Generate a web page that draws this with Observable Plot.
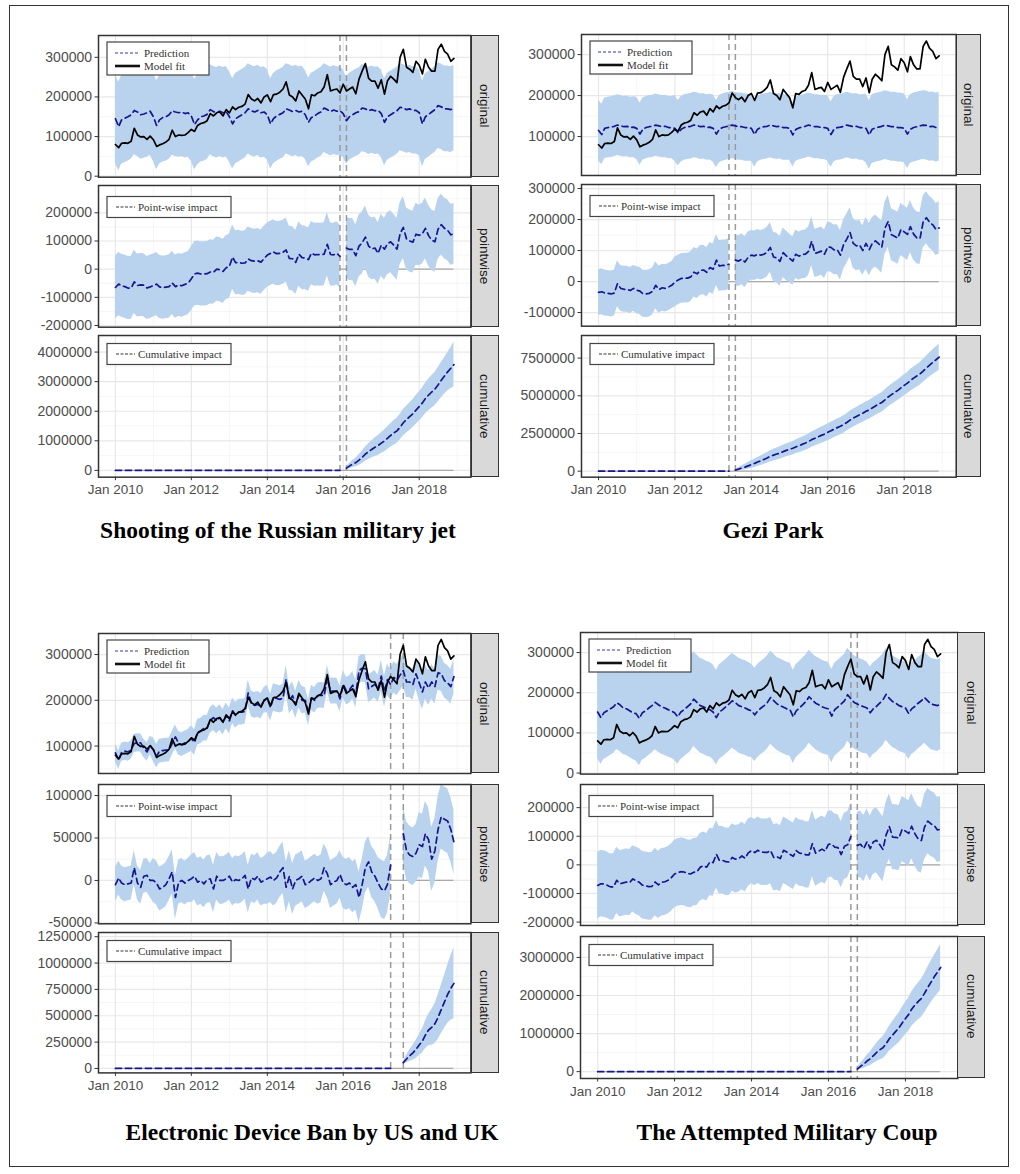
<!DOCTYPE html>
<html>
<head>
<meta charset="utf-8">
<script src="https://cdn.jsdelivr.net/npm/d3@7"></script>
<script src="https://cdn.jsdelivr.net/npm/@observablehq/plot@0.6"></script>
<style>
  body { margin: 0; background: #fff; }
  #page { position: relative; width: 1020px; height: 1174px; overflow: hidden; background: #fff; }
  #border { position: absolute; left: 9px; top: 5px; width: 1000px; height: 1162px; border: 1px solid #333; box-sizing: border-box; }
  .box { position: absolute; }
  .strip { position: absolute; background: #d9d9d9; border: 1.5px solid #333; box-sizing: border-box;
           display: flex; align-items: center; justify-content: center; }
  .strip span { writing-mode: vertical-rl; font: 13.5px "Liberation Sans", Arial, sans-serif; color: #1a1a1a; }
  .title { position: absolute; transform: translateX(-50%); white-space: nowrap; line-height: 28px;
           font: bold 23.5px "Liberation Serif", "Times New Roman", serif; color: #000; }
</style>
</head>
<body>
<div id="page"><div id="border"></div></div>
<script>
// monthly series, Jan 2010 - Dec 2018, in thousands
const actual = [
  80, 72, 83, 84, 83, 88, 121, 104, 99, 100, 93, 101,
  92, 75, 79, 82, 86, 93, 116, 100, 104, 103, 104, 110,
  118, 113, 128, 133, 135, 140, 158, 152, 160, 162, 152, 168,
  160, 175, 168, 174, 176, 182, 206, 195, 190, 196, 185, 200,
  205, 188, 206, 207, 212, 220, 238, 205, 200, 190, 215, 205,
  195, 170, 205, 203, 210, 213, 225, 256, 215, 218, 220, 210,
  232, 215, 220, 225, 208, 245, 265, 284, 247, 240, 240, 222,
  243, 207, 240, 252, 245, 236, 300, 320, 275, 270, 262, 290,
  280, 258, 295, 275, 265, 265, 320, 333, 315, 308, 290, 297
];

const predJet = [
  145, 125, 142, 146, 150, 155, 166, 162, 155, 157, 160, 164,
  150, 128, 142, 148, 150, 155, 165, 162, 160, 162, 158, 160,
  152, 130, 142, 150, 152, 156, 168, 163, 160, 164, 160, 163,
  150, 132, 145, 150, 155, 160, 170, 165, 162, 166, 160, 162,
  155, 132, 145, 152, 156, 160, 170, 167, 163, 166, 162, 164,
  155, 136, 148, 152, 158, 162, 172, 168, 163, 167, 164, 165,
  158, 140, 150, 155, 160, 163, 172, 170, 165, 168, 165, 166,
  158, 136, 150, 155, 160, 165, 174, 172, 168, 170, 166, 166,
  160, 132, 150, 156, 162, 168, 178, 175, 170, 170, 168, 172
];

const predGezi = [
  115, 105, 120, 122, 123, 125, 128, 126, 124, 125, 122, 123,
  120, 106, 118, 122, 124, 125, 128, 126, 124, 125, 122, 122,
  120, 108, 118, 122, 124, 125, 128, 127, 124, 125, 122, 123,
  120, 106, 118, 122, 124, 126, 128, 126, 124, 124, 122, 122,
  120, 105, 118, 122, 124, 125, 128, 126, 124, 125, 122, 122,
  120, 104, 117, 121, 123, 125, 128, 126, 124, 124, 122, 122,
  120, 105, 118, 122, 123, 125, 128, 126, 124, 125, 122, 122,
  120, 104, 118, 121, 123, 125, 128, 126, 124, 124, 122, 122,
  120, 106, 118, 122, 124, 126, 128, 127, 124, 125, 122, 124
];

// point-wise impact read directly for the device ban (prediction tracks the data)
const effectBan = [
  -5, 3, -3, -5, -4, -3, 15, -3, -8, 5, 6, 0,
  0, -3, -10, -8, -5, 2, 10, -20, -2, 0, -3, 0,
  2, 5, -2, 0, -4, 1, 2, -10, 5, 0, 0, 2,
  5, -2, 1, 0, 2, 6, -10, 3, 1, 5, -2, 0,
  2, 4, 0, 3, 10, 15, -8, 5, -10, 0, 2, 5,
  -5, -3, 0, 3, 0, 2, 15, 8, -5, -2, 0, 7,
  -3, -5, -3, -8, -5, -20, -5, 15, 22, 10, 5, -3,
  -10, -12, -5, 18, -5, -8, 45, 55, 35, 30, 28, 32,
  42, 40, 55, 48, 25, 35, 60, 75, 72, 70, 60, 45
];

const predCoup = [
  152, 138, 150, 155, 160, 165, 175, 170, 162, 160, 155, 150,
  148, 136, 150, 155, 162, 168, 176, 170, 165, 162, 158, 155,
  150, 140, 152, 158, 165, 172, 184, 176, 168, 165, 160, 158,
  152, 138, 152, 158, 165, 172, 180, 175, 168, 165, 162, 158,
  155, 145, 155, 162, 168, 176, 188, 180, 172, 168, 164, 160,
  158, 140, 155, 162, 170, 178, 190, 182, 174, 170, 165, 162,
  160, 142, 158, 165, 172, 180, 195, 185, 176, 172, 168, 165,
  162, 150, 160, 166, 174, 182, 196, 186, 178, 174, 168, 165,
  162, 148, 160, 166, 174, 180, 188, 180, 172, 170, 168, 172
];

// half width of the prediction interval, by year 2010..2018 (thousands)
const bandJet = [112, 112, 114, 114, 114, 112, 110, 110, 108];
const bandGezi = [74, 76, 80, 82, 80, 78, 80, 84, 84];
const bandBan = [20, 26, 28, 28, 30, 28, 30, 34, 38];
const bandCoup = [116, 118, 118, 118, 116, 116, 116, 114, 114];

// half width of the cumulative interval, per post-period month (thousands)
const cumBandJet = [50, 90, 120, 150, 180, 210, 240, 265, 290, 310, 330, 350, 370, 385, 400, 415, 425, 435,
  445, 455, 465, 475, 485, 495, 505, 520, 535, 550, 565, 580, 600, 620, 650, 690, 760];
const cumBandGezi = [60, 110, 150, 190, 220, 250, 275, 300, 320, 340, 355, 370, 385, 400, 410, 420, 430, 440,
  450, 460, 470, 480, 490, 500, 510, 520, 530, 540, 550, 555, 560, 565, 570, 575, 580, 585, 590, 595, 600,
  605, 610, 615, 620, 625, 630, 640, 650, 660, 665, 670, 675, 680, 690, 700, 710, 720, 730, 740, 750, 765,
  780, 800, 820, 850, 880];
const cumBandBan = [15, 35, 55, 70, 85, 100, 115, 130, 150, 170, 190, 210, 230, 250, 275, 305, 335];
const cumBandCoup = [40, 80, 115, 150, 180, 210, 240, 265, 290, 310, 330, 350, 370, 390, 410, 425, 440, 455,
  470, 485, 500, 515, 530, 545, 560, 580, 600];

const dates = d3.utcMonths(new Date(Date.UTC(2010, 0, 1)), new Date(Date.UTC(2019, 0, 1)));
const majorYears = [2010, 2012, 2014, 2016, 2018].map(y => new Date(Date.UTC(y, 0, 1)));
const minorYears = [2011, 2013, 2015, 2017, 2019].map(y => new Date(Date.UTC(y, 0, 1)));
const facetNames = ["original", "pointwise", "cumulative"];

const panels = [
  {
    title: "Shooting of the Russian military jet", tx: 278, ty: 531,
    pred: predJet, band: bandJet, cumBand: cumBandJet, preEnd: 71, postStart: 73,
    x0: 98.3, x1: 470.7, strip: 28.3,
    rows: [[35, 176.7], [185, 326.7], [335, 476.7]],
    domains: [[-2500, 355000], [-206000, 297000], [-230000, 4560000]],
    ticks: [[0, 1e5, 2e5, 3e5], [-2e5, -1e5, 0, 1e5, 2e5], [0, 1e6, 2e6, 3e6, 4e6]]
  },
  {
    title: "Gezi Park", tx: 773, ty: 531,
    pred: predGezi, band: bandGezi, cumBand: cumBandGezi, preEnd: 41, postStart: 43,
    x0: 581, x1: 955.7, strip: 25.5,
    rows: [[34, 175], [184, 325.7], [335, 476.7]],
    domains: [[5000, 349000], [-144000, 313000], [-400000, 9000000]],
    ticks: [[1e5, 2e5, 3e5], [-1e5, 0, 1e5, 2e5, 3e5], [0, 2.5e6, 5e6, 7.5e6]]
  },
  {
    title: "Electronic Device Ban by US and UK", tx: 312, ty: 1133,
    effect: effectBan, band: bandBan, cumBand: cumBandBan, preEnd: 87, postStart: 91,
    x0: 98.3, x1: 470.7, strip: 28.3,
    rows: [[633.3, 773.3], [784, 923.3], [932.3, 1072.7]],
    domains: [[40000, 346000], [-51000, 113000], [-42000, 1290000]],
    ticks: [[1e5, 2e5, 3e5], [-5e4, 0, 5e4, 1e5], [0, 2.5e5, 5e5, 7.5e5, 1e6, 1.25e6]]
  },
  {
    title: "The Attempted Military Coup", tx: 787, ty: 1133,
    pred: predCoup, band: bandCoup, cumBand: cumBandCoup, preEnd: 79, postStart: 81,
    x0: 580, x1: 957.3, strip: 27.7,
    rows: [[631.7, 773.3], [784, 925], [935.7, 1077.7]],
    domains: [[-2500, 350000], [-212000, 281000], [-180000, 3550000]],
    ticks: [[0, 1e5, 2e5, 3e5], [-2e5, -1e5, 0, 1e5, 2e5], [0, 1e6, 2e6, 3e6]]
  }
];

const d0 = dates[0], d1 = dates[dates.length - 1];
const pad = (d1 - d0) * 0.05;
const xDomain = [new Date(+d0 - pad), new Date(+d1 + pad)];

const BAND = "#b9d3ee", BLUE = "#16168f", VGREY = "#9a9a9a", ZERO = "#a9a9a9";

function buildRows(p) {
  let run = 0;
  return dates.map((date, i) => {
    const yr = Math.floor(i / 12);
    const y = actual[i] * 1e3;
    const pred = (p.pred ? p.pred[i] : actual[i] - p.effect[i]) * 1e3;
    const hw = p.band[yr] * 1e3;
    const r = {date, y, pred, lo: pred - hw, hi: pred + hw};
    const gap = i > p.preEnd && i < p.postStart;
    const pw = gap ? NaN : y - pred;
    r.pw = pw; r.pwLo = pw - hw; r.pwHi = pw + hw;
    if (i <= p.preEnd) { r.cum = 0; r.cumLo = 0; r.cumHi = 0; }
    else if (gap) { r.cum = NaN; r.cumLo = NaN; r.cumHi = NaN; }
    else {
      run += pw;
      const c = p.cumBand[i - p.postStart] * 1e3;
      r.cum = run; r.cumLo = run - c; r.cumHi = run + c;
    }
    return r;
  });
}

function addLegend(svg, x, y, k) {
  const g = d3.select(svg).append("g").attr("transform", `translate(${x},${y})`)
    .attr("text-anchor", "start")
    .style("font-family", '"Liberation Serif", "Times New Roman", serif').style("font-size", "11px");
  if (k === 0) {
    g.append("rect").attr("width", 102).attr("height", 33).attr("fill", "#fff").attr("stroke", "#444").attr("stroke-width", 1.2);
    g.append("line").attr("x1", 8).attr("x2", 33).attr("y1", 11).attr("y2", 11)
      .attr("stroke", "#3636b0").attr("stroke-width", 1.2).attr("stroke-dasharray", "3,2");
    g.append("text").attr("x", 37).attr("y", 11).attr("dy", "0.35em").attr("fill", "#333").text("Prediction");
    g.append("line").attr("x1", 8).attr("x2", 33).attr("y1", 24).attr("y2", 24)
      .attr("stroke", "#111").attr("stroke-width", 2.6);
    g.append("text").attr("x", 37).attr("y", 24).attr("dy", "0.35em").attr("fill", "#333").text("Model fit");
  } else {
    g.append("rect").attr("width", 124).attr("height", 21).attr("fill", "#fff").attr("stroke", "#444").attr("stroke-width", 1.2);
    g.append("line").attr("x1", 9).attr("x2", 28).attr("y1", 10.5).attr("y2", 10.5)
      .attr("stroke", "#333").attr("stroke-width", 1).attr("stroke-dasharray", "3,1.5");
    g.append("text").attr("x", 31).attr("y", 10.5).attr("dy", "0.35em").attr("fill", "#333")
      .text(k === 1 ? "Point-wise impact" : "Cumulative impact");
  }
}

const page = d3.select("#page");

panels.forEach(p => {
  const rows = buildRows(p);
  const vlines = [dates[p.preEnd], dates[p.postStart]];

  p.rows.forEach(([y0, y1], k) => {
    const ML = 90, MR = 2, MT = 10, MB = k === 2 ? 32 : 10;
    const w = p.x1 - p.x0, h = y1 - y0;
    const dom = p.domains[k], ticks = p.ticks[k];
    const step = ticks[1] - ticks[0];
    const minorY = ticks.map(t => t - step / 2).concat([ticks[ticks.length - 1] + step / 2])
      .filter(v => v > dom[0] && v < dom[1]);

    const marks = [
      Plot.ruleY(minorY, {stroke: "#f2f2f2", strokeWidth: 0.7}),
      Plot.ruleX(minorYears, {stroke: "#f2f2f2", strokeWidth: 0.7}),
      Plot.ruleY(ticks, {stroke: "#e8e8e8", strokeWidth: 1.2}),
      Plot.ruleX(majorYears, {stroke: "#e8e8e8", strokeWidth: 1.2})
    ];
    if (k === 0) {
      marks.push(
        Plot.areaY(rows, {x: "date", y1: "lo", y2: "hi", fill: BAND}),
        Plot.ruleX(vlines, {stroke: VGREY, strokeWidth: 1.5, strokeDasharray: "6,4"}),
        Plot.lineY(rows, {x: "date", y: "pred", stroke: BLUE, strokeWidth: 1.7, strokeDasharray: "6,4"}),
        Plot.lineY(rows, {x: "date", y: "y", stroke: "#000", strokeWidth: 1.7})
      );
    } else {
      const key = k === 1 ? "pw" : "cum";
      marks.push(
        Plot.ruleY([0], {x1: d0, x2: d1, stroke: ZERO, strokeWidth: 1.3}),
        Plot.areaY(rows, {x: "date", y1: key + "Lo", y2: key + "Hi", fill: BAND}),
        Plot.ruleX(vlines, {stroke: VGREY, strokeWidth: 1.5, strokeDasharray: "6,4"}),
        Plot.lineY(rows, {x: "date", y: key, stroke: BLUE, strokeWidth: 1.7, strokeDasharray: "6,4"})
      );
    }
    marks.push(
      Plot.frame({stroke: "#333", strokeWidth: 1.5}),
      Plot.axisY({ticks, tickFormat: d => String(d), tickSize: 3.5, tickPadding: 3, stroke: "#333",
        fontSize: 14, label: null})
    );
    if (k === 2) {
      marks.push(Plot.axisX({ticks: majorYears, tickFormat: d3.utcFormat("%b %Y"), tickSize: 3.5,
        tickPadding: 4, stroke: "#333", label: null}));
    }

    const chart = Plot.plot({
      width: w + ML + MR, height: h + MT + MB,
      marginLeft: ML, marginRight: MR, marginTop: MT, marginBottom: MB,
      style: {fontFamily: '"Liberation Sans", Arial, sans-serif', fontSize: "13.5px", color: "#4d4d4d", background: "transparent", overflow: "visible"},
      x: k === 2 ? {type: "utc", domain: xDomain} : {type: "utc", domain: xDomain, axis: null},
      y: {domain: dom},
      marks
    });

    const legendTop = [7, 11.5, 8.5][k];
    addLegend(chart, ML + 9, MT + legendTop, k);

    page.append("div").attr("class", "box")
      .style("left", (p.x0 - ML) + "px").style("top", (y0 - MT) + "px")
      .node().appendChild(chart);

    page.append("div").attr("class", "strip")
      .style("left", p.x1 + "px").style("top", y0 + "px")
      .style("width", p.strip + "px").style("height", h + "px")
      .append("span").text(facetNames[k]);
  });

  page.append("div").attr("class", "title")
    .style("left", p.tx + "px").style("top", (p.ty - 14) + "px")
    .text(p.title);
});
</script>
</body>
</html>
